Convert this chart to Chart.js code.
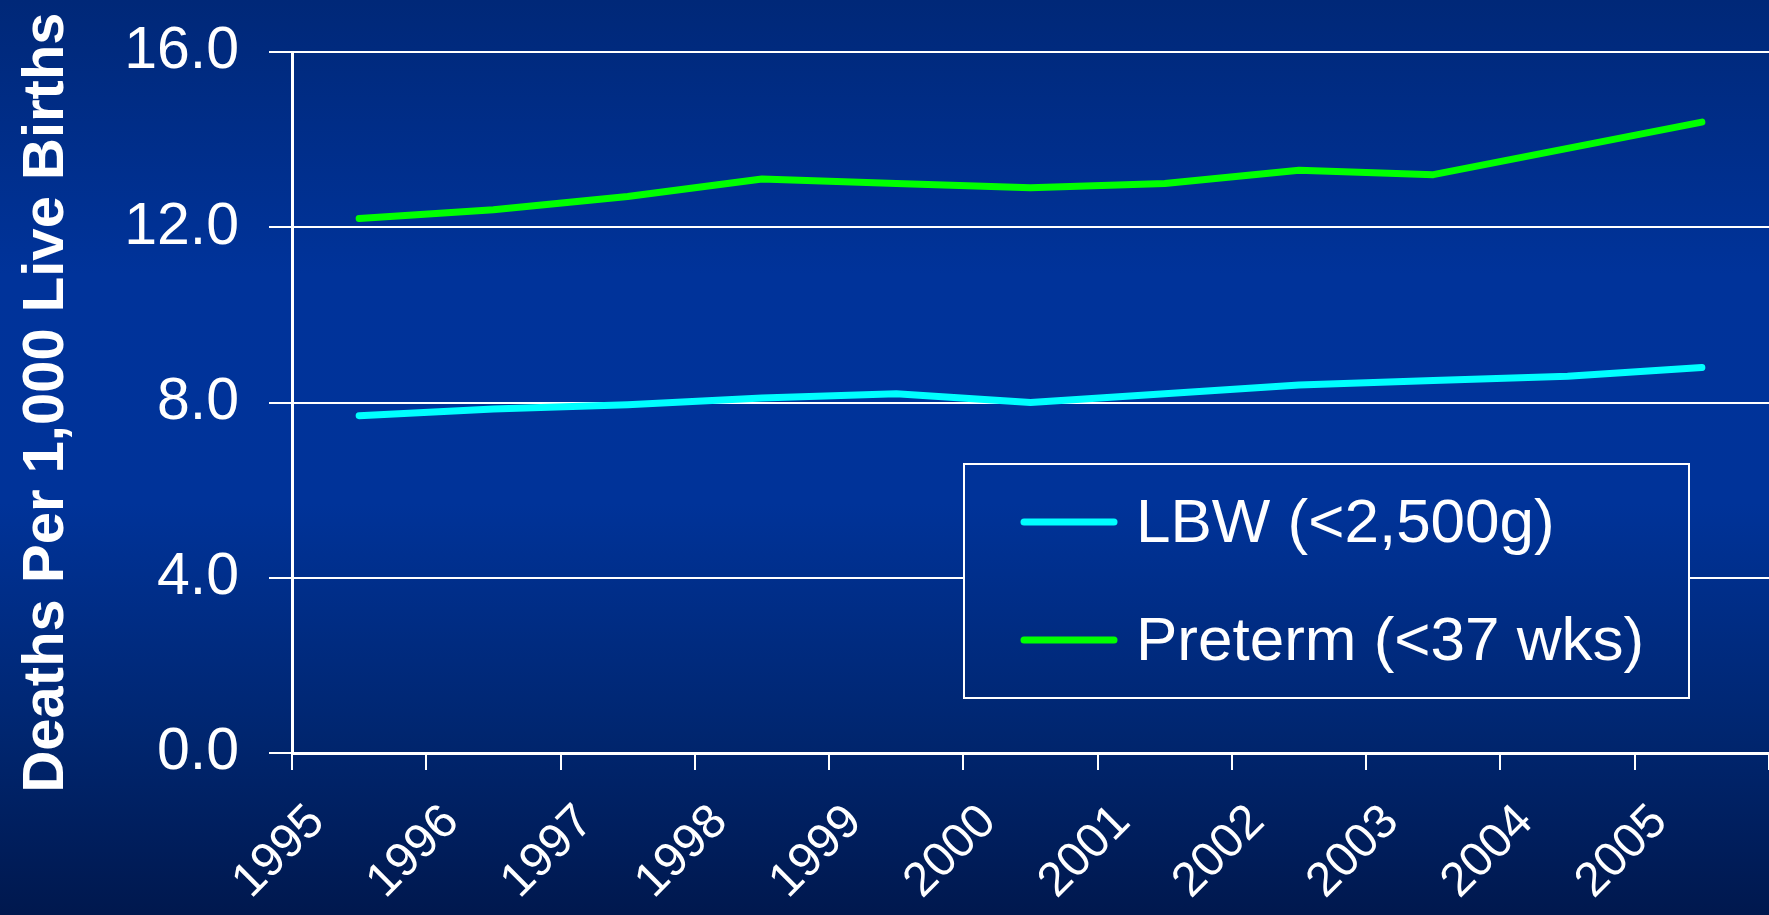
<!DOCTYPE html>
<html lang="en">
<head>
    <meta charset="UTF-8">
    <title>Infant Deaths LBW / Preterm</title>
    <style>
        body {
            margin: 0;
            padding: 0;
            background: #002878;
            overflow: hidden;
        }
        canvas {
            display: block;
        }
    </style>
</head>
<body>
    <canvas id="deathsChart" width="1769" height="915"></canvas>

    <script src="https://cdn.jsdelivr.net/npm/chart.js"></script>

    <script>
        // Chart data
        const years = ['1995', '1996', '1997', '1998', '1999', '2000', '2001', '2002', '2003', '2004', '2005'];
        const lbwRates = [7.7, 7.85, 7.95, 8.1, 8.2, 8.0, 8.2, 8.4, 8.5, 8.6, 8.8];
        const pretermRates = [12.2, 12.4, 12.7, 13.1, 13.0, 12.9, 13.0, 13.3, 13.2, 13.8, 14.4];
        const yTickValues = [0, 4, 8, 12, 16];
        const seriesLabels = ['LBW (<2,500g)', 'Preterm (<37 wks)'];

        const FONT = '"Liberation Sans", Arial, sans-serif';

        function bgGradient(ctx, h) {
            const g = ctx.createLinearGradient(0, 0, 0, h);
            g.addColorStop(0, '#002878');
            g.addColorStop(0.3, '#00339a');
            g.addColorStop(0.55, '#003399');
            g.addColorStop(0.8, '#002670');
            g.addColorStop(1, '#00184e');
            return g;
        }

        // background fill
        const backgroundPlugin = {
            id: 'bg',
            beforeDraw(chart) {
                const ctx = chart.ctx;
                ctx.save();
                ctx.fillStyle = bgGradient(ctx, chart.height);
                ctx.fillRect(0, 0, chart.width, chart.height);
                ctx.restore();
            }
        };

        // boxed legend inside the plot, like the slide
        const boxLegendPlugin = {
            id: 'boxLegend',
            afterDatasetsDraw(chart) {
                const ctx = chart.ctx;
                const box = { x: 964, y: 464, w: 725, h: 234 };
                ctx.save();
                ctx.fillStyle = bgGradient(ctx, chart.height);
                ctx.fillRect(box.x, box.y, box.w, box.h);
                ctx.strokeStyle = '#ffffff';
                ctx.lineWidth = 2;
                ctx.strokeRect(box.x, box.y, box.w, box.h);

                const rows = [522, 640];
                chart.data.datasets.forEach((ds, i) => {
                    const y = rows[i];
                    ctx.strokeStyle = ds.borderColor;
                    ctx.lineWidth = 7;
                    ctx.lineCap = 'round';
                    ctx.beginPath();
                    ctx.moveTo(1024, y);
                    ctx.lineTo(1114, y);
                    ctx.stroke();

                    ctx.fillStyle = '#ffffff';
                    ctx.font = '62px ' + FONT;
                    ctx.textBaseline = 'middle';
                    ctx.textAlign = 'left';
                    ctx.fillText(ds.label, 1136, y + 3);
                });
                ctx.restore();
            }
        };

        const ctx = document.getElementById('deathsChart').getContext('2d');
        const deathsChart = new Chart(ctx, {
            type: 'line',
            data: {
                labels: years,
                datasets: [
                    {
                        label: seriesLabels[0],
                        data: lbwRates,
                        borderColor: '#00ffff',
                        borderWidth: 7,
                        borderCapStyle: 'round',
                        borderJoinStyle: 'round',
                        pointRadius: 0,
                        tension: 0,
                        fill: false
                    },
                    {
                        label: seriesLabels[1],
                        data: pretermRates,
                        borderColor: '#00ff00',
                        borderWidth: 7,
                        borderCapStyle: 'round',
                        borderJoinStyle: 'round',
                        pointRadius: 0,
                        tension: 0,
                        fill: false
                    }
                ]
            },
            options: {
                responsive: false,
                animation: false,
                layout: {
                    padding: { top: 52, right: 0, bottom: 0, left: 0 }
                },
                plugins: {
                    legend: { display: false },
                    tooltip: { enabled: false }
                },
                scales: {
                    x: {
                        offset: true,
                        grid: {
                            offset: true,
                            drawOnChartArea: false,
                            drawTicks: true,
                            tickLength: 17,
                            color: '#ffffff',
                            lineWidth: 2
                        },
                        border: { color: '#ffffff', width: 3 },
                        ticks: {
                            color: '#ffffff',
                            font: { family: FONT, size: 48 },
                            minRotation: 45,
                            maxRotation: 45,
                            autoSkip: false,
                            padding: 24,
                            labelOffset: -42
                        },
                        afterFit(scale) {
                            scale.height = 162;
                            scale.paddingLeft = 0;
                            scale.paddingRight = 0;
                        }
                    },
                    y: {
                        min: 0,
                        max: 16,
                        afterBuildTicks(scale) {
                            scale.ticks = yTickValues.map(v => ({ value: v }));
                        },
                        grid: {
                            color: '#ffffff',
                            lineWidth: 2,
                            tickLength: 23
                        },
                        border: { color: '#ffffff', width: 3 },
                        ticks: {
                            color: '#ffffff',
                            font: { family: FONT, size: 59 },
                            padding: 30,
                            callback: v => v.toFixed(1)
                        },
                        title: {
                            display: true,
                            text: 'Deaths Per 1,000 Live Births',
                            color: '#ffffff',
                            font: { family: FONT, size: 58, weight: 'bold' },
                            padding: { top: 12, bottom: 4 }
                        },
                        afterFit(scale) {
                            scale.width = 292;
                            scale.paddingTop = 0;
                            scale.paddingBottom = 0;
                        }
                    }
                }
            },
            plugins: [backgroundPlugin, boxLegendPlugin]
        });
    </script>
</body>
</html>
